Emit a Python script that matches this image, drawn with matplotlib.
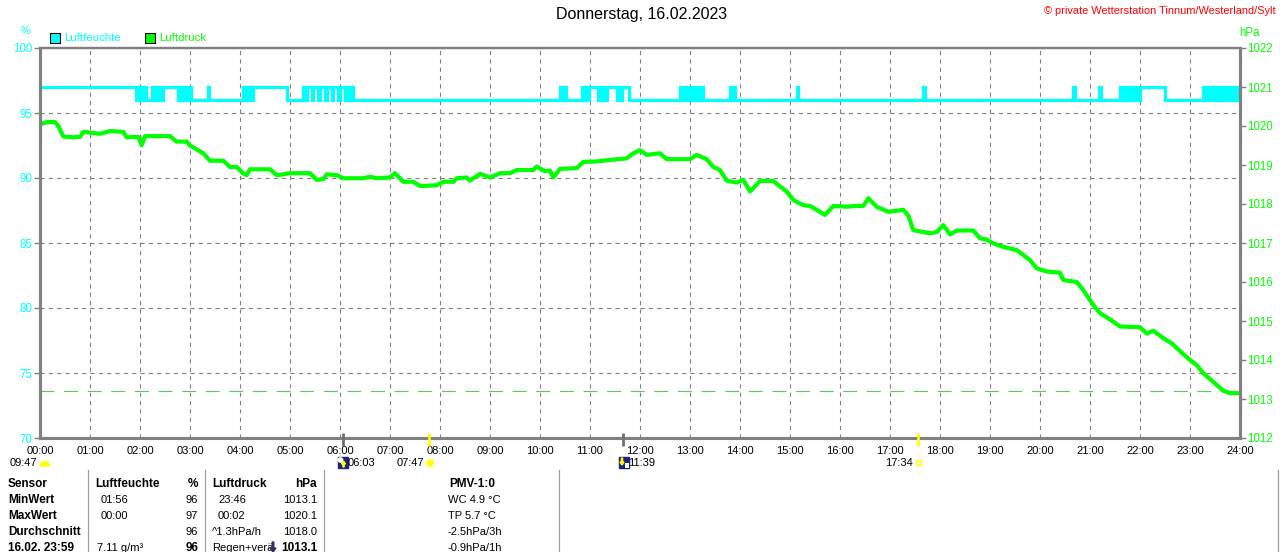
import matplotlib
matplotlib.use('Agg')
import matplotlib.pyplot as plt
from matplotlib.patches import Rectangle, Circle, Wedge, FancyArrow

plt.rcParams['font.family'] = ['Liberation Sans', 'DejaVu Sans']
plt.rcParams['lines.scale_dashes'] = False

W, H = 1280, 552
CYAN = '#00ffff'
GREEN = '#00ff00'
GREY = '#808080'

# ---------------- data ----------------
title = 'Donnerstag, 16.02.2023'
copyright_txt = '© private Wetterstation Tinnum/Westerland/Sylt'
series_names = ['Luftfeuchte', 'Luftdruck']
hour_labels = ['00:00', '01:00', '02:00', '03:00', '04:00', '05:00', '06:00', '07:00',
               '08:00', '09:00', '10:00', '11:00', '12:00', '13:00', '14:00', '15:00',
               '16:00', '17:00', '18:00', '19:00', '20:00', '21:00', '22:00', '23:00', '24:00']
hum_ticks = [70, 75, 80, 85, 90, 95, 100]
press_ticks = [1012, 1013, 1014, 1015, 1016, 1017, 1018, 1019, 1020, 1021, 1022]

# humidity (%), step series: minute of day -> value from then on
hum_t = [0, 115, 117, 119, 121, 123, 125, 127, 134, 136, 138, 141, 143, 146, 148,
         165, 167, 169, 171, 173, 175, 176, 180, 181, 202, 203,
         244, 246, 248, 250, 252, 254, 256, 296,
         316, 318, 320, 326, 328, 334, 336, 342, 344, 350, 352, 358, 360, 366, 368, 372, 374, 376,
         624, 626, 628, 631,
         650, 652, 654, 657, 659, 670, 672, 674, 676, 678, 680, 692, 694, 696, 698, 707,
         768, 770, 772, 774, 776, 779, 782, 786, 788, 790, 792, 796,
         828, 830, 832, 834, 908, 909, 1060, 1062, 1240, 1242, 1271, 1273,
         1296, 1298, 1300, 1303, 1305, 1308, 1310, 1313, 1315, 1318, 1320, 1350,
         1396, 1398, 1400, 1403, 1405, 1408, 1410, 1413, 1415, 1418, 1420, 1423,
         1425, 1428, 1430, 1433, 1435, 1438, 1440]
hum_v = [97, 96, 97, 96, 97, 96, 97, 96, 97, 96, 97, 96, 97, 96, 97,
         96, 97, 96, 97, 96, 97, 96, 97, 96, 97, 96,
         97, 96, 97, 96, 97, 96, 97, 96,
         97, 96, 97, 96, 97, 96, 97, 96, 97, 96, 97, 96, 97, 96, 97, 96, 97, 96,
         97, 96, 97, 96,
         97, 96, 97, 96, 97, 96, 97, 96, 97, 96, 97, 96, 97, 96, 97, 96,
         97, 96, 97, 96, 97, 96, 97, 96, 97, 96, 97, 96,
         97, 96, 97, 96, 97, 96, 97, 96, 97, 96, 97, 96,
         97, 96, 97, 96, 97, 96, 97, 96, 97, 96, 97, 96,
         97, 96, 97, 96, 97, 96, 97, 96, 97, 96, 97, 96,
         97, 96, 97, 96, 97, 96, 96]

# air pressure (hPa): minute of day, value
press_t = [0, 8, 18, 22, 28, 40, 48, 52, 72, 84, 100, 104, 118, 122, 126, 156, 164, 176,
           180, 188, 196, 204, 220, 228, 236, 244, 248, 252, 276, 284, 292, 300, 324, 332,
           340, 344, 356, 364, 388, 396, 404, 420, 426, 436, 448, 456, 476, 484, 496, 500,
           512, 516, 528, 540, 552, 564, 572, 592, 596, 606, 612, 616, 624, 644, 652, 668,
           684, 704, 712, 720, 728, 744, 752, 780, 788, 800, 808, 816, 824, 836, 844, 852,
           864, 880, 888, 896, 904, 916, 924, 932, 942, 952, 968, 978, 988, 994, 1004, 1018,
           1036, 1042, 1048, 1068, 1076, 1084, 1092, 1100, 1120, 1128, 1136, 1144, 1156, 1172,
           1188, 1196, 1208, 1224, 1228, 1244, 1252, 1264, 1272, 1284, 1296, 1320, 1328, 1336,
           1348, 1358, 1370, 1380, 1388, 1396, 1408, 1420, 1428, 1440]
press_v = [1020.04, 1020.1, 1020.1, 1020.0, 1019.73, 1019.71, 1019.72, 1019.85, 1019.8,
           1019.87, 1019.85, 1019.71, 1019.72, 1019.51, 1019.74, 1019.74, 1019.6, 1019.6,
           1019.5, 1019.4, 1019.3, 1019.11, 1019.11, 1018.95, 1018.95, 1018.78, 1018.74,
           1018.89, 1018.89, 1018.74, 1018.76, 1018.79, 1018.79, 1018.62, 1018.64, 1018.76,
           1018.74, 1018.66, 1018.66, 1018.7, 1018.66, 1018.68, 1018.79, 1018.57, 1018.57,
           1018.46, 1018.48, 1018.57, 1018.57, 1018.66, 1018.68, 1018.6, 1018.77, 1018.68,
           1018.79, 1018.79, 1018.87, 1018.87, 1018.96, 1018.84, 1018.86, 1018.68, 1018.9,
           1018.92, 1019.08, 1019.09, 1019.13, 1019.17, 1019.3, 1019.38, 1019.26, 1019.3,
           1019.15, 1019.15, 1019.26, 1019.15, 1018.95, 1018.87, 1018.6, 1018.55, 1018.62,
           1018.32, 1018.59, 1018.59, 1018.45, 1018.32, 1018.1, 1017.97, 1017.95, 1017.85,
           1017.72, 1017.95, 1017.93, 1017.95, 1017.95, 1018.15, 1017.93, 1017.8, 1017.85,
           1017.7, 1017.33, 1017.25, 1017.28, 1017.46, 1017.22, 1017.32, 1017.32, 1017.12,
           1017.09, 1016.99, 1016.9, 1016.82, 1016.56, 1016.35, 1016.27, 1016.24, 1016.05,
           1016.0, 1015.79, 1015.41, 1015.2, 1015.04, 1014.86, 1014.84, 1014.68, 1014.75,
           1014.56, 1014.43, 1014.19, 1014.0, 1013.87, 1013.66, 1013.44, 1013.21, 1013.15,
           1013.15]
press_ref_line = 1013.2

# sun / moon times (minute of day)
moonrise_min = 363   # 06:03
sunrise_min = 467    # 07:47
moonset_min = 699    # 11:39
sunset_min = 1054    # 17:34
day_length = '09:47'
moonrise_lbl = '06:03'
sunrise_lbl = '07:47'
moonset_lbl = '11:39'
sunset_lbl = '17:34'

# table
tbl_col0 = ['Sensor', 'MinWert', 'MaxWert', 'Durchschnitt', '16.02. 23:59']
tbl_hum_time = ['Luftfeuchte', '01:56', '00:00', '', '7.11 g/m³']
tbl_hum_val = ['%', '96', '97', '96', '96']
tbl_p_time = ['Luftdruck', '23:46', '00:02', '^1.3hPa/h', 'Regen+verä']
tbl_p_val = ['hPa', '1013.1', '1020.1', '1018.0', '1013.1']
tbl_pmv = ['PMV-1:0', 'WC 4.9 °C', 'TP 5.7 °C', '-2.5hPa/3h', '-0.9hPa/1h']

# ---------------- figure ----------------
fig = plt.figure(figsize=(W / 100, H / 100), dpi=100)
ax = fig.add_axes([40 / W, 1 - 438 / H, 1200 / W, 390 / H])
ax2 = ax.twinx()

ax.set_xlim(0, 1440)
ax.set_ylim(70, 100)
ax2.set_ylim(1012, 1022)

ax.set_yticks(hum_ticks)
ax.set_yticklabels([str(v) for v in hum_ticks])
ax2.set_yticks(press_ticks)
ax2.set_yticklabels([str(v) for v in press_ticks])
ax.set_xticks(range(0, 1441, 60))
ax.set_xticklabels(hour_labels)

ax.tick_params(axis='x', length=0, pad=6, labelsize=8, labelcolor='black')
ax.tick_params(axis='y', direction='out', length=4, width=1, color=GREY,
               labelcolor=CYAN, labelsize=8.3, pad=1.5)
ax2.tick_params(axis='y', direction='out', length=4, width=1, color=GREY,
                labelcolor=GREEN, labelsize=8.3, pad=1.5)

for a in (ax, ax2):
    for sp in a.spines.values():
        sp.set_color(GREY)
        sp.set_linewidth(2.2)
ax.spines['top'].set_linewidth(1.6)
ax2.spines['top'].set_linewidth(1.6)

ax.grid(True, color=GREY, linestyle=(0, (3, 3)), linewidth=0.8)
ax.set_axisbelow(True)

ax.step(hum_t, hum_v, where='post', color=CYAN, linewidth=2.3, solid_joinstyle='miter')
ax2.axhline(press_ref_line, color='#55cc55', linewidth=0.8, linestyle=(0, (10, 7)))
ax2.plot(press_t, press_v, color=GREEN, linewidth=3.0, solid_joinstyle='round')

# ---------------- overlay in pixel coordinates ----------------
deco = fig.add_axes([0, 0, 1, 1])
deco.set_xlim(0, W)
deco.set_ylim(H, 0)
deco.axis('off')
deco.set_zorder(10)


def T(x, y, s, ha='left', color='black', bold=False, size=8, va='center'):
    deco.text(x, y, s, ha=ha, va=va, color=color, fontsize=size,
              fontweight='bold' if bold else 'normal', clip_on=False)


def mx(m):
    return 40 + m / 1440 * 1200


T(642, 15, title, ha='center', size=11.5)
T(1276, 11, copyright_txt, ha='right', color='red', size=7.9)
T(26, 31, '%', ha='center', color=CYAN, size=8)
T(1250, 33, 'hPa', ha='center', color=GREEN, size=8.3)

deco.add_patch(Rectangle((50, 33), 10, 10, facecolor=CYAN, edgecolor='black', linewidth=0.8))
T(64, 38, series_names[0], color=CYAN, size=8.2)
deco.add_patch(Rectangle((145, 33), 10, 10, facecolor=GREEN, edgecolor='black', linewidth=0.8))
T(159, 38, series_names[1], color=GREEN, size=8.2)

# event markers on the time axis
for m, c in [(moonrise_min, '#707070'), (moonset_min, '#707070'),
             (sunrise_min, '#ffff00'), (sunset_min, '#ffff00')]:
    deco.plot([mx(m), mx(m)], [433, 446], color=c, linewidth=2.0, solid_capstyle='butt')

# sun row
T(37, 463, day_length, ha='right')
deco.add_patch(Wedge((45, 466), 4.5, 180, 360, facecolor='#ffff00', edgecolor='#ffff00'))

x0 = mx(moonrise_min) - 5
deco.add_patch(Rectangle((x0, 457), 10, 11, facecolor='#1a237e', edgecolor='#1a237e'))
deco.add_patch(Circle((x0 + 3, 460), 2.2, facecolor='white', edgecolor='white'))
deco.add_patch(FancyArrow(x0 + 6, 467, 0, -6, width=1.2, head_width=4, head_length=3,
                          color='#ffff00', length_includes_head=True))
T(mx(moonrise_min) + 5, 463, moonrise_lbl)

T(424, 463, sunrise_lbl, ha='right')
sx = mx(sunrise_min) + 1
deco.add_patch(Circle((sx, 463), 5.5, facecolor='#ffffcc', edgecolor='none'))
deco.add_patch(Circle((sx, 463), 3.5, facecolor='#ffff00', edgecolor='none'))

x1 = mx(moonset_min) - 4
deco.add_patch(Rectangle((x1, 457), 10, 11, facecolor='#1a237e', edgecolor='#1a237e'))
deco.add_patch(Rectangle((x1 + 6, 463), 4, 5, facecolor='white', edgecolor='none'))
deco.add_patch(FancyArrow(x1 + 3.5, 458, 0, 7, width=1.2, head_width=4, head_length=3,
                          color='#ffff00', length_includes_head=True))
T(mx(moonset_min) + 6, 463, moonset_lbl)

T(913, 463, sunset_lbl, ha='right')
deco.add_patch(Rectangle((mx(sunset_min) - 2, 460), 5, 5, facecolor='none',
                         edgecolor='#ffff00', linewidth=1.0))

# table
for xs in [88, 205, 324, 559, 1278]:
    deco.plot([xs, xs], [470, H], color='#a0a0a0', linewidth=0.9)

row_y = [484, 500, 516, 532, 548]
for i, y in enumerate(row_y):
    T(8, y, tbl_col0[i], bold=True, size=8.5)
    T(95 if i == 0 else (97 if i == 4 else 101), y, tbl_hum_time[i], bold=(i == 0),
      size=8.5 if i == 0 else 8)
    T(198, y, tbl_hum_val[i], ha='right', bold=(i in (0, 4)), size=8.5 if i in (0, 4) else 8)
    T(212 if i in (0, 3, 4) else 218, y, tbl_p_time[i], bold=(i == 0),
      size=8.5 if i == 0 else 8)
    T(317, y, tbl_p_val[i], ha='right', bold=(i in (0, 4)), size=8.5 if i in (0, 4) else 8)
    if i == 0:
        T(472, y, tbl_pmv[i], ha='center', bold=True, size=8.5)
    else:
        T(448, y, tbl_pmv[i])
# small rain-trend arrow icon in the last row
deco.add_patch(FancyArrow(273, 542, 0, 10, width=1.6, head_width=6, head_length=4,
                          color='#303060', length_includes_head=True, zorder=4))

fig.savefig('out.png', dpi=100)
